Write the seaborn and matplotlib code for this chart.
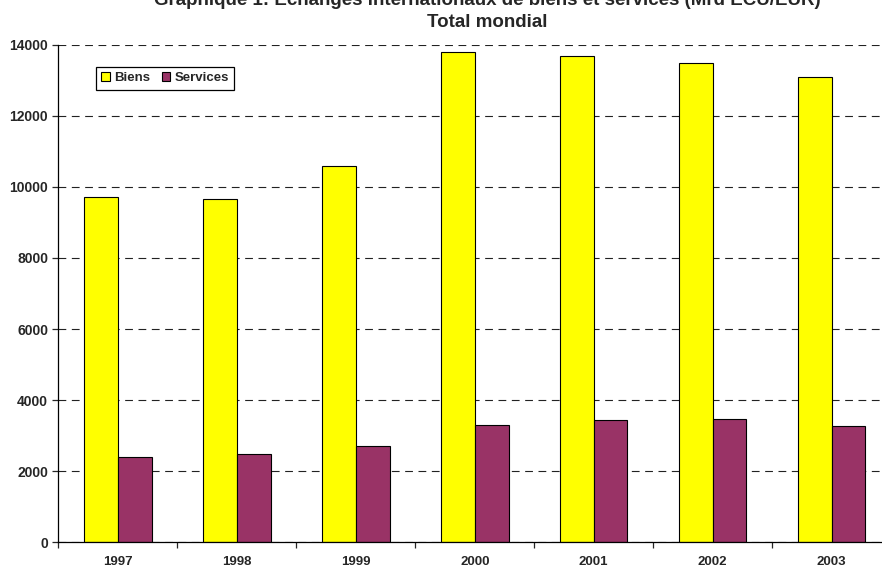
import pandas as pd
import matplotlib.pyplot as plt
import seaborn as sns

# ----------------------------------------------------------
# Data (Mrd ECU/EUR)
# ----------------------------------------------------------
years = ["1997", "1998", "1999", "2000", "2001", "2002", "2003"]
biens = [9710, 9670, 10580, 13800, 13680, 13490, 13100]
services = [2410, 2475, 2710, 3310, 3435, 3470, 3275]
series_names = ["Biens", "Services"]
colors = {"Biens": "#FFFF00", "Services": "#993366"}

df = pd.DataFrame({
    "year": years * 2,
    "value": biens + services,
    "serie": [series_names[0]] * len(years) + [series_names[1]] * len(years),
})

sns.set_style("white")
plt.rcParams["font.family"] = ["Liberation Sans", "DejaVu Sans"]

fig = plt.figure(figsize=(8.82, 5.67), dpi=100)
ax = fig.add_axes([0.0663, 0.0436, 0.944, 0.8776])

ax.set_axisbelow(True)
sns.barplot(data=df, x="year", y="value", hue="serie", palette=colors,
            width=0.567, gap=0, edgecolor="black", linewidth=0.8,
            saturation=1, ax=ax)

ax.set_xlim(-0.5, 6.5)
ax.set_ylim(0, 14000)
ax.set_yticks(range(0, 14001, 2000))
ax.set_xlabel("")
ax.set_ylabel("")

# dashed gridlines
ax.yaxis.grid(True, color="#222222", linewidth=0.8, linestyle=(0, (7, 5)))
ax.xaxis.grid(False)

# spines
for side in ["top", "right"]:
    ax.spines[side].set_visible(False)
for side in ["left", "bottom"]:
    ax.spines[side].set_color("black")
    ax.spines[side].set_linewidth(0.9)

# ticks: y outward, x between categories
ax.tick_params(axis="y", direction="out", length=4.5, width=0.9,
               pad=3, labelsize=10, left=True)
ax.tick_params(axis="x", which="major", length=0, pad=10, labelsize=9.5)
ax.set_xticks([i + 0.5 for i in range(-1, 7)], minor=True)
ax.tick_params(axis="x", which="minor", direction="out", length=4.5,
               width=0.9, bottom=True)
for lab in ax.get_xticklabels() + ax.get_yticklabels():
    lab.set_fontweight("bold")

# legend
leg = ax.legend(loc="upper left", bbox_to_anchor=(0.0447, 0.956),
                borderaxespad=0, ncol=2, frameon=True, fancybox=False,
                edgecolor="black", framealpha=1, handlelength=0.65,
                handleheight=0.65, handletextpad=0.3, columnspacing=0.9,
                borderpad=0.42, prop={"weight": "bold", "size": 9.5})
leg.get_frame().set_linewidth(0.9)

# title (top line partly cut off in the original)
fig.text(0.553, 0.999, "Graphique 1: Echanges internationaux de biens et services (Mrd ECU/EUR)",
         ha="center", va="center", fontsize=13.5, fontweight="bold")
fig.text(0.553, 0.960, "Total mondial", ha="center", va="center",
         fontsize=13.5, fontweight="bold")

plt.savefig("out.png", dpi=100)
